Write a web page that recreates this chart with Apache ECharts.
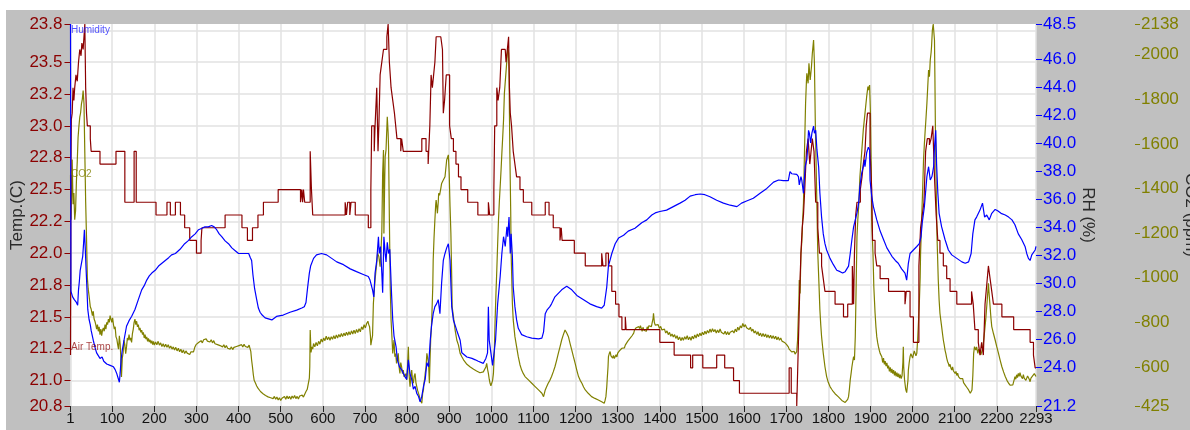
<!DOCTYPE html>
<html>
<head>
<meta charset="UTF-8">
<title>Air Temp / Humidity / CO2</title>
<script src="https://cdn.jsdelivr.net/npm/echarts@6.0.0/dist/echarts.min.js"></script>
<style>
  html, body { margin: 0; padding: 0; background: #fff; }
  #chart { position: absolute; left: 6px; top: 10px; width: 1184px; height: 420px; }
</style>
</head>
<body>
<div id="chart"></div>
<script>
// ticks shown on each axis
const xTicks = [1, 100, 200, 300, 400, 500, 600, 700, 800, 900, 1000, 1100, 1200, 1300, 1400, 1500, 1600, 1700, 1800, 1900, 2000, 2100, 2200, 2293];
const tempTicks = [20.8, 21.0, 21.25, 21.5, 21.75, 22.0, 22.25, 22.5, 22.75, 23.0, 23.25, 23.5, 23.8];
const tempTickLabels = ['20.8', '21.0', '21.2', '21.5', '21.8', '22.0', '22.2', '22.5', '22.8', '23.0', '23.2', '23.5', '23.8'];
const tempGrid = [21.0, 21.25, 21.5, 21.75, 22.0, 22.25, 22.5, 22.75, 23.0, 23.25, 23.5, 23.75];
const rhTicks = [21.2, 24, 26, 28, 30, 32, 34, 36, 38, 40, 42, 44, 46, 48.5];
const co2Ticks = [425, 600, 800, 1000, 1200, 1400, 1600, 1800, 2000, 2138];

// Air Temp. (C) - stepped
const tempData = [[1,21.2],[2,22.65],[3,23.05],[5,23.1],[7,23.3],[9,23.2],[11,23.3],[14,23.4],[17,23.35],[20,23.5],[23,23.6],[26,23.55],[28,23.65],[31,23.6],[33,23.7],[35,23.8],[37,23.3],[39,23.1],[41,23.0],[48,22.9],[50,22.8],[71,22.7],[109,22.8],[130,22.4],[152,22.8],[157,22.4],[204,22.3],[230,22.4],[238,22.3],[250,22.4],[262,22.3],[272,22.2],[284,22.1],[300,22.0],[311,22.1],[313,22.2],[368,22.3],[408,22.2],[421,22.1],[433,22.2],[446,22.3],[459,22.4],[494,22.5],[547,22.4],[550,22.5],[552,22.4],[554,22.5],[557,22.4],[570,22.8],[573,22.5],[576,22.3],[653,22.4],[656,22.3],[659,22.4],[664,22.3],[667,22.4],[677,22.3],[708,22.2],[714,22.5],[716,23.0],[722,22.8],[724,23.0],[728,23.3],[731,22.8],[733,23.0],[736,23.4],[740,23.5],[744,23.6],[748,23.6],[752,23.7],[755,23.8],[758,23.5],[762,23.3],[766,23.2],[770,23.1],[773,23.0],[776,22.9],[785,22.8],[787,22.9],[791,22.8],[835,22.9],[845,22.8],[850,22.7],[854,23.0],[857,23.4],[860,23.3],[863,23.4],[866,23.5],[869,23.7],[880,23.7],[884,23.6],[886,23.1],[889,23.2],[893,23.4],[897,23.4],[901,23.0],[905,22.9],[910,22.8],[916,22.7],[922,22.6],[928,22.5],[944,22.4],[968,22.3],[993,22.4],[996,22.3],[1006,22.5],[1008,23.0],[1013,23.3],[1016,23.2],[1020,23.3],[1024,23.6],[1033,23.6],[1035,23.5],[1038,23.6],[1041,23.7],[1043,23.3],[1045,23.1],[1048,23.0],[1052,22.8],[1056,22.7],[1060,22.6],[1068,22.5],[1076,22.4],[1096,22.3],[1128,22.4],[1137,22.3],[1147,22.2],[1163,22.1],[1166,22.2],[1168,22.1],[1197,22.0],[1223,21.9],[1262,22.0],[1265,21.9],[1272,22.0],[1278,21.9],[1286,21.7],[1295,21.6],[1303,21.5],[1310,21.4],[1318,21.5],[1320,21.4],[1400,21.3],[1434,21.2],[1473,21.1],[1478,21.2],[1502,21.1],[1535,21.2],[1554,21.1],[1575,21.0],[1589,20.9],[1707,21.1],[1712,20.9],[1725,20.8],[1729,21.3],[1732,21.7],[1735,22.0],[1738,22.2],[1741,22.3],[1744,22.5],[1748,22.8],[1752,22.9],[1756,22.7],[1759,22.8],[1762,22.9],[1766,22.8],[1770,22.4],[1775,22.2],[1779,22.0],[1784,21.9],[1788,21.8],[1792,21.7],[1816,21.6],[1836,21.5],[1846,21.6],[1857,21.9],[1860,21.6],[1862,22.0],[1865,22.3],[1868,22.4],[1876,22.5],[1880,22.6],[1883,22.7],[1887,22.8],[1890,23.0],[1893,23.1],[1899,22.8],[1903,22.5],[1905,22.1],[1911,22.0],[1915,21.9],[1923,21.8],[1943,21.7],[1982,21.6],[1985,21.7],[1994,21.5],[2002,21.3],[2015,21.9],[2019,22.2],[2023,22.3],[2027,22.4],[2031,22.8],[2035,22.9],[2040,22.85],[2044,22.9],[2048,23.0],[2052,22.6],[2056,22.3],[2060,22.1],[2065,22.0],[2073,21.9],[2081,21.8],[2089,21.7],[2105,21.6],[2140,21.7],[2144,21.6],[2148,21.4],[2156,21.3],[2160,21.2],[2164,21.3],[2168,21.2],[2172,21.6],[2176,21.75],[2180,21.9],[2184,21.8],[2188,21.7],[2192,21.6],[2212,21.5],[2240,21.4],[2279,21.3],[2287,21.2],[2291,21.1],[2293,21.1]];

// Humidity RH (%)
const rhData = [[1,48.5],[2,29.4],[4,29.3],[6,29.0],[8,29.1],[10,28.8],[12,28.9],[15,28.6],[18,28.4],[20,29.5],[22,30.1],[24,30.9],[26,30.8],[28,31.0],[30,31.9],[32,32.8],[34,33.8],[36,32.5],[38,31.0],[40,29.6],[42,28.1],[45,27.4],[48,27.0],[50,26.6],[55,25.9],[60,25.3],[63,25.0],[67,24.8],[71,24.6],[76,24.7],[80,24.4],[83,24.5],[87,24.2],[91,24.3],[95,24.1],[99,24.1],[103,24.0],[107,23.8],[111,23.5],[114,23.2],[117,22.9],[119,23.6],[121,24.5],[124,25.2],[128,25.9],[134,26.9],[140,27.3],[146,27.6],[154,28.1],[162,28.8],[170,29.5],[176,29.8],[182,30.2],[188,30.5],[194,30.7],[202,30.9],[210,31.2],[218,31.4],[226,31.6],[234,31.8],[241,32.0],[250,32.1],[261,32.4],[272,32.8],[280,33.0],[289,33.3],[297,33.5],[305,33.8],[313,33.9],[320,34.0],[328,34.0],[336,34.1],[342,34.0],[348,33.8],[354,33.5],[360,33.3],[368,33.0],[376,32.8],[384,32.5],[392,32.3],[400,32.1],[408,32.1],[416,32.1],[424,32.1],[428,31.8],[431,31.6],[434,30.6],[438,29.6],[443,28.8],[447,28.2],[451,27.9],[456,27.7],[463,27.5],[467,27.6],[479,27.35],[490,27.6],[506,27.7],[522,27.9],[538,28.05],[550,28.2],[556,28.3],[560,28.6],[564,29.7],[568,30.7],[571,31.2],[578,31.75],[585,32.0],[597,32.1],[609,32.0],[621,31.75],[633,31.5],[649,31.3],[665,31.0],[680,30.8],[696,30.6],[708,30.45],[712,30.2],[718,29.5],[721,29.0],[724,30.7],[728,31.6],[732,33.3],[734,32.1],[737,32.6],[740,30.7],[742,29.3],[745,33.3],[748,32.1],[750,31.5],[753,32.9],[756,32.1],[759,32.4],[763,29.3],[766,27.35],[769,26.2],[774,25.4],[777,24.5],[782,24.0],[787,23.8],[795,23.3],[799,23.1],[803,24.5],[807,23.5],[811,23.1],[815,22.4],[819,22.6],[823,22.1],[827,21.9],[831,21.5],[835,21.9],[839,22.6],[843,23.1],[847,24.3],[851,24.0],[855,25.9],[858,26.9],[862,27.8],[866,28.3],[870,28.5],[874,28.8],[878,27.8],[882,30.0],[886,31.6],[890,32.1],[894,32.5],[898,32.8],[902,31.6],[906,28.3],[910,27.35],[918,26.6],[926,25.9],[930,25.0],[942,24.7],[954,24.6],[962,24.5],[969,24.4],[981,24.25],[987,24.6],[991,25.0],[993,28.3],[995,25.9],[999,25.0],[1003,24.1],[1007,24.0],[1010,25.9],[1015,28.5],[1021,30.45],[1025,32.1],[1029,33.3],[1033,32.6],[1037,34.0],[1039,33.3],[1042,34.7],[1045,32.1],[1047,33.5],[1050,31.9],[1052,29.7],[1056,28.3],[1060,27.35],[1064,26.75],[1072,26.3],[1084,26.15],[1096,26.05],[1112,26.0],[1120,26.05],[1124,26.5],[1128,27.8],[1132,28.05],[1139,28.3],[1143,28.5],[1151,29.0],[1167,29.5],[1179,29.75],[1191,29.5],[1203,29.1],[1219,28.8],[1234,28.5],[1250,28.3],[1262,28.2],[1268,28.4],[1274,29.7],[1278,31.2],[1286,32.1],[1294,32.8],[1302,33.2],[1314,33.4],[1325,33.7],[1341,33.9],[1357,34.3],[1369,34.5],[1381,34.85],[1389,35.0],[1400,35.1],[1416,35.2],[1432,35.45],[1448,35.7],[1460,35.9],[1472,36.2],[1484,36.3],[1496,36.35],[1507,36.3],[1519,36.15],[1535,35.9],[1551,35.7],[1567,35.55],[1583,35.45],[1594,35.7],[1606,35.85],[1622,36.05],[1638,36.4],[1654,36.75],[1670,37.2],[1682,37.35],[1693,37.3],[1705,37.3],[1709,37.95],[1713,37.8],[1725,37.75],[1729,37.6],[1731,37.0],[1735,37.6],[1737,37.35],[1741,36.4],[1745,38.3],[1749,38.8],[1751,39.7],[1753,40.9],[1755,40.7],[1758,40.0],[1761,40.7],[1765,41.2],[1767,40.7],[1770,40.9],[1773,39.5],[1777,38.3],[1780,36.4],[1784,34.7],[1788,33.5],[1792,32.8],[1796,32.35],[1804,31.75],[1812,31.3],[1820,30.9],[1828,30.8],[1834,30.7],[1840,30.8],[1844,30.8],[1848,31.2],[1852,32.1],[1856,33.1],[1860,34.0],[1864,34.5],[1868,35.0],[1872,35.7],[1875,36.9],[1879,37.8],[1883,38.3],[1886,38.8],[1887,38.3],[1891,39.3],[1895,39.7],[1898,39.5],[1899,37.35],[1903,36.2],[1907,35.45],[1915,34.5],[1923,33.7],[1931,33.1],[1939,32.5],[1951,31.9],[1959,31.6],[1966,31.4],[1974,31.0],[1982,30.7],[1986,30.2],[1990,31.4],[1994,32.1],[2002,32.35],[2010,32.6],[2016,32.8],[2020,33.3],[2023,34.3],[2028,35.45],[2034,37.6],[2038,38.3],[2042,37.35],[2046,37.6],[2050,38.3],[2052,39.7],[2055,40.9],[2057,38.5],[2060,36.4],[2063,34.97],[2069,34.0],[2077,33.1],[2085,32.35],[2093,32.0],[2105,31.75],[2117,31.5],[2125,31.4],[2133,31.5],[2139,32.1],[2143,33.5],[2148,34.5],[2152,34.7],[2160,35.2],[2166,35.7],[2171,34.7],[2176,34.85],[2182,34.5],[2188,34.97],[2196,35.25],[2202,35.15],[2210,34.97],[2220,34.85],[2228,34.7],[2236,34.5],[2243,34.15],[2251,33.5],[2259,33.1],[2267,32.6],[2271,32.1],[2275,31.75],[2279,31.6],[2283,32.0],[2287,32.1],[2291,32.35],[2293,32.6]];

// CO2 (ppm)
const co2Data = [[1,1460],[2,1260],[4,1400],[5,1530],[7,1330],[9,1380],[11,1260],[13,1300],[15,1430],[17,1520],[19,1630],[21,1680],[23,1720],[25,1740],[27,1780],[29,1800],[31,1840],[33,1780],[35,1560],[37,1340],[39,1180],[41,1000],[43,950],[45,920],[48,870],[50,860],[53,830],[55,850],[57,815],[59,805],[61,790],[63,770],[65,790],[67,760],[69,780],[71,745],[73,770],[75,740],[77,765],[79,775],[81,760],[83,790],[85,770],[87,800],[89,790],[91,815],[93,800],[95,830],[97,815],[99,800],[101,820],[103,790],[105,770],[107,780],[109,735],[111,725],[113,700],[115,680],[117,740],[119,700],[121,620],[122,555],[124,640],[126,665],[128,720],[130,700],[132,660],[134,690],[136,730],[138,720],[140,745],[142,720],[144,730],[146,710],[148,750],[150,770],[152,800],[154,815],[156,790],[158,805],[160,780],[162,790],[164,765],[166,775],[168,755],[170,765],[172,745],[174,755],[176,730],[178,745],[180,725],[182,735],[184,715],[186,728],[188,712],[190,722],[192,706],[194,718],[196,700],[198,715],[200,698],[203,712],[206,700],[209,715],[212,698],[215,708],[218,692],[221,704],[224,690],[227,702],[230,688],[233,700],[236,684],[239,694],[242,680],[245,690],[248,676],[251,688],[254,672],[257,684],[260,668],[263,680],[266,664],[269,676],[272,660],[275,672],[278,662],[281,670],[284,656],[287,668],[290,675],[293,668],[296,688],[299,700],[302,694],[305,710],[308,704],[311,718],[314,708],[317,722],[320,714],[323,726],[326,716],[329,724],[332,712],[335,722],[338,708],[341,718],[344,704],[347,712],[350,700],[353,708],[356,696],[359,704],[362,690],[365,700],[368,686],[371,696],[374,684],[377,692],[380,680],[383,690],[386,678],[389,688],[392,680],[395,692],[398,684],[401,696],[404,688],[407,700],[410,690],[413,702],[416,692],[419,700],[422,688],[425,698],[427,690],[429,670],[431,630],[433,600],[435,565],[437,540],[440,528],[443,515],[446,505],[449,498],[452,490],[455,497],[458,480],[461,485],[464,472],[467,480],[470,466],[473,474],[476,462],[479,470],[482,458],[485,468],[488,455],[491,465],[494,452],[497,462],[500,450],[503,460],[506,452],[509,468],[512,455],[515,470],[518,458],[521,468],[524,455],[527,470],[530,460],[533,472],[536,458],[539,468],[542,456],[545,470],[548,462],[551,474],[554,465],[557,478],[560,490],[563,500],[566,530],[568,550],[569,600],[570,766],[572,665],[574,690],[576,680],[578,705],[581,690],[584,710],[587,695],[590,715],[593,702],[596,725],[599,712],[602,730],[605,718],[608,738],[611,722],[614,735],[617,720],[620,736],[623,724],[626,740],[629,726],[632,744],[635,730],[638,746],[641,734],[644,750],[647,736],[650,752],[653,740],[656,756],[659,742],[662,758],[665,745],[668,762],[671,748],[674,765],[677,750],[680,768],[683,754],[686,772],[689,758],[692,780],[695,768],[698,790],[701,775],[704,795],[707,805],[709,790],[711,780],[713,740],[714,698],[716,720],[718,740],[720,885],[722,940],[724,990],[726,1030],[728,1065],[730,1110],[733,1095],[736,1050],[738,1120],[740,1199],[742,1468],[744,1573],[745,1199],[747,1450],[748,1543],[750,1573],[753,1722],[755,1650],[756,1588],[757,1420],[758,1259],[760,960],[762,811],[764,736],[766,661],[768,700],[769,721],[771,646],[773,660],[775,616],[777,640],[779,661],[781,600],[783,571],[785,620],[787,601],[789,570],[791,586],[793,555],[795,557],[797,570],[799,542],[801,600],[803,691],[805,560],[807,512],[809,560],[811,586],[813,540],[815,527],[817,560],[819,571],[821,530],[823,512],[825,495],[827,482],[829,470],[831,452],[833,445],[835,437],[837,482],[839,500],[840,527],[842,550],[843,571],[845,600],[847,661],[849,640],[851,616],[853,527],[854,600],[856,721],[858,790],[859,841],[861,960],[862,1080],[864,1180],[866,1259],[868,1330],[869,1349],[871,1310],[872,1289],[874,1340],[875,1379],[877,1370],[878,1379],[880,1400],[882,1423],[884,1430],[886,1438],[888,1445],[890,1453],[892,1490],[894,1528],[896,1540],[898,1551],[900,1468],[902,1319],[904,1199],[906,1000],[907,870],[910,826],[914,766],[918,721],[922,698],[926,661],[930,646],[934,632],[938,624],[942,612],[946,609],[950,600],[954,594],[958,590],[961,586],[965,582],[969,579],[973,574],[977,571],[981,578],[985,586],[987,600],[989,616],[991,590],[993,571],[995,545],[997,527],[999,515],[1001,512],[1003,540],[1005,571],[1007,661],[1009,811],[1011,930],[1013,1035],[1015,1150],[1017,1259],[1019,1340],[1021,1409],[1023,1480],[1025,1558],[1027,1630],[1029,1707],[1031,1827],[1034,1902],[1037,1977],[1039,2036],[1041,2006],[1042,1932],[1044,1558],[1046,1300],[1047,1110],[1050,885],[1052,811],[1056,736],[1060,691],[1064,646],[1068,610],[1072,586],[1076,570],[1080,557],[1084,550],[1088,542],[1092,535],[1096,527],[1100,520],[1104,512],[1108,505],[1112,497],[1116,490],[1120,482],[1124,467],[1128,497],[1131,510],[1135,527],[1139,540],[1143,557],[1147,578],[1151,601],[1155,630],[1159,661],[1163,690],[1167,721],[1171,745],[1175,766],[1179,752],[1183,736],[1187,705],[1191,676],[1195,645],[1199,616],[1203,585],[1207,557],[1211,540],[1215,527],[1219,510],[1223,497],[1227,490],[1230,482],[1234,475],[1238,467],[1242,463],[1246,459],[1250,455],[1254,452],[1258,448],[1262,444],[1265,440],[1268,437],[1270,450],[1272,467],[1274,510],[1275,542],[1277,600],[1278,646],[1280,660],[1282,669],[1284,650],[1286,654],[1288,640],[1290,652],[1292,638],[1294,646],[1296,655],[1298,645],[1300,662],[1302,661],[1304,672],[1306,664],[1308,680],[1310,684],[1312,676],[1314,692],[1316,686],[1318,698],[1320,706],[1322,700],[1324,716],[1326,710],[1328,724],[1330,730],[1332,722],[1334,740],[1336,734],[1338,752],[1340,766],[1342,758],[1344,776],[1346,768],[1348,784],[1350,781],[1352,772],[1354,785],[1356,773],[1358,760],[1360,778],[1362,765],[1364,758],[1366,772],[1368,760],[1370,780],[1372,770],[1374,785],[1376,778],[1378,790],[1380,781],[1382,800],[1384,818],[1385,841],[1387,800],[1389,788],[1391,796],[1393,781],[1396,790],[1399,773],[1402,782],[1405,766],[1408,758],[1411,770],[1414,752],[1417,762],[1420,745],[1423,755],[1426,738],[1429,748],[1432,734],[1435,745],[1438,728],[1441,740],[1444,722],[1447,735],[1450,718],[1453,732],[1456,720],[1459,736],[1462,724],[1465,740],[1468,722],[1471,735],[1474,720],[1477,738],[1480,726],[1483,744],[1486,730],[1489,748],[1492,736],[1495,752],[1498,740],[1501,756],[1504,744],[1507,760],[1510,748],[1513,764],[1516,752],[1519,770],[1522,756],[1525,772],[1528,758],[1531,768],[1534,752],[1537,766],[1540,754],[1543,770],[1546,756],[1549,764],[1552,748],[1555,760],[1558,745],[1561,758],[1564,744],[1567,756],[1570,748],[1573,762],[1576,752],[1579,770],[1582,758],[1585,778],[1588,765],[1591,784],[1594,775],[1597,795],[1600,780],[1603,790],[1606,776],[1609,784],[1612,768],[1615,778],[1618,760],[1621,770],[1624,752],[1627,762],[1630,746],[1633,758],[1636,740],[1639,752],[1642,736],[1645,750],[1648,736],[1651,748],[1654,732],[1657,744],[1660,730],[1663,742],[1666,728],[1669,740],[1672,726],[1675,738],[1678,722],[1681,734],[1684,720],[1687,730],[1690,716],[1693,724],[1696,710],[1699,718],[1701,700],[1703,706],[1705,690],[1707,680],[1709,676],[1711,684],[1713,668],[1715,675],[1717,662],[1719,670],[1721,658],[1723,665],[1725,669],[1727,721],[1729,840],[1730,885],[1731,990],[1733,930],[1735,1110],[1737,1160],[1738,1199],[1739,1259],[1741,1334],[1743,1528],[1745,1700],[1746,1782],[1748,1880],[1749,1917],[1752,1872],[1754,1962],[1757,1887],[1760,1947],[1762,2006],[1765,2066],[1767,1962],[1769,1707],[1772,1409],[1775,1110],[1778,960],[1780,856],[1782,790],[1784,736],[1788,661],[1792,601],[1796,557],[1800,530],[1804,512],[1808,500],[1812,489],[1816,480],[1820,474],[1824,466],[1828,459],[1832,450],[1836,444],[1840,441],[1844,440],[1846,455],[1848,467],[1850,500],[1852,542],[1854,570],[1856,601],[1858,625],[1860,646],[1862,631],[1864,736],[1866,960],[1868,1184],[1870,1260],[1872,1319],[1875,1453],[1879,1558],[1883,1663],[1887,1737],[1891,1812],[1894,1857],[1895,1842],[1898,1864],[1900,1737],[1902,1483],[1903,1259],[1906,1110],[1908,960],[1911,841],[1913,780],[1915,736],[1917,710],[1919,691],[1921,675],[1923,661],[1925,655],[1927,646],[1929,620],[1931,640],[1933,612],[1935,626],[1937,604],[1939,618],[1941,594],[1943,606],[1945,580],[1947,598],[1949,574],[1951,592],[1953,570],[1955,586],[1957,562],[1959,580],[1961,558],[1963,575],[1965,555],[1967,570],[1969,550],[1971,566],[1973,548],[1975,560],[1977,620],[1978,691],[1979,600],[1981,542],[1983,510],[1984,497],[1986,485],[1987,482],[1989,540],[1990,586],[1992,620],[1994,646],[1996,660],[1998,661],[2000,640],[2002,646],[2004,672],[2006,669],[2008,650],[2010,661],[2012,721],[2014,800],[2016,885],[2018,1000],[2019,1110],[2021,1220],[2022,1289],[2024,1400],[2026,1528],[2028,1600],[2030,1663],[2032,1720],[2034,1782],[2036,1857],[2038,1932],[2040,1902],[2042,1977],[2044,2010],[2045,2036],[2047,2111],[2049,2138],[2050,2130],[2052,2066],[2053,1900],[2054,1707],[2056,1409],[2058,1184],[2061,990],[2063,900],[2065,841],[2067,810],[2069,781],[2071,750],[2073,721],[2075,700],[2077,676],[2079,660],[2081,640],[2083,625],[2085,616],[2087,602],[2089,612],[2091,595],[2093,586],[2095,600],[2097,582],[2099,590],[2101,571],[2103,580],[2105,562],[2107,572],[2109,557],[2111,565],[2113,548],[2115,556],[2117,542],[2119,548],[2121,530],[2123,538],[2125,519],[2127,525],[2129,508],[2131,512],[2133,497],[2135,490],[2137,482],[2139,488],[2141,497],[2143,560],[2145,661],[2147,691],[2150,676],[2152,690],[2155,661],[2157,680],[2160,676],[2162,655],[2164,661],[2166,680],[2168,706],[2170,740],[2172,781],[2174,820],[2176,870],[2178,920],[2180,975],[2182,920],[2184,870],[2186,820],[2188,781],[2192,750],[2196,721],[2200,690],[2204,661],[2208,630],[2212,601],[2216,578],[2220,557],[2224,540],[2228,527],[2232,518],[2236,512],[2238,520],[2240,534],[2242,548],[2243,557],[2245,545],[2247,565],[2249,552],[2251,571],[2253,558],[2255,575],[2257,560],[2259,564],[2261,548],[2263,566],[2265,550],[2267,557],[2269,540],[2271,542],[2273,560],[2275,557],[2277,545],[2279,534],[2281,550],[2283,542],[2285,560],[2287,557],[2289,570],[2291,564],[2293,557]];

const TEMP_COLOR = '#8b0000';
const RH_COLOR = '#0000ff';
const CO2_COLOR = '#808000';
const FONT = 'Liberation Sans';

function tempLabel(v) {
  let best = 0;
  for (let i = 1; i < tempTicks.length; i++) {
    if (Math.abs(tempTicks[i] - v) < Math.abs(tempTicks[best] - v)) best = i;
  }
  return tempTickLabels[best];
}

const chart = echarts.init(document.getElementById('chart'));
chart.setOption({
  animation: false,
  backgroundColor: '#c0c0c0',
  grid: {
    left: 64.5, top: 14, right: 154, bottom: 24,
    outerBoundsMode: 'none', containLabel: false,
    show: true, backgroundColor: '#ffffff', borderWidth: 0
  },
  xAxis: {
    type: 'value', min: 1, max: 2293,
    axisLine: { show: false },
    axisTick: { show: true, length: 6, customValues: xTicks, lineStyle: { color: '#222' } },
    axisLabel: { customValues: xTicks, color: '#111', fontSize: 15, fontFamily: FONT, margin: 5,
      formatter: v => String(Math.round(v)) },
    splitLine: { show: true, lineStyle: { color: '#e2e2e2', width: 1.5 } }
  },
  yAxis: [
    {
      type: 'value', position: 'left', min: 20.8, max: 23.8,
      name: 'Temp.(C)', nameLocation: 'middle', nameGap: 45, nameRotate: 90, nameMoveOverlap: false,
      nameTextStyle: { color: '#2a2a2a', fontSize: 17, fontFamily: FONT },
      axisLine: { show: false },
      axisTick: { show: true, length: 6, customValues: tempTicks, lineStyle: { color: TEMP_COLOR } },
      axisLabel: { customValues: tempTicks, color: TEMP_COLOR, fontSize: 17, fontFamily: FONT, margin: 8,
        formatter: tempLabel },
      splitLine: { show: false }
    },
    {
      type: 'value', position: 'right', min: 21.2, max: 48.5,
      name: 'RH (%)', nameLocation: 'middle', nameGap: 43, nameRotate: -90, nameMoveOverlap: false,
      nameTextStyle: { color: '#2a2a2a', fontSize: 17, fontFamily: FONT },
      axisLine: { show: false },
      axisTick: { show: true, length: 6, customValues: rhTicks, lineStyle: { color: RH_COLOR } },
      axisLabel: { customValues: rhTicks, color: RH_COLOR, fontSize: 17, fontFamily: FONT, margin: 7,
        formatter: v => v.toFixed(1) },
      splitLine: { show: false }
    },
    {
      type: 'value', position: 'right', offset: 99, min: 425, max: 2138,
      name: 'CO2 (ppm)', nameLocation: 'middle', nameGap: 47, nameRotate: -90, nameMoveOverlap: false,
      nameTextStyle: { color: '#2a2a2a', fontSize: 17, fontFamily: FONT },
      axisLine: { show: false },
      axisTick: { show: true, length: 5, customValues: co2Ticks, lineStyle: { color: CO2_COLOR } },
      axisLabel: { customValues: co2Ticks, color: CO2_COLOR, fontSize: 17, fontFamily: FONT, margin: 6,
        formatter: v => String(Math.round(v)) },
      splitLine: { show: false }
    },
    {
      // horizontal grid lines on the temperature scale
      type: 'value', position: 'left', min: 20.8, max: 23.8,
      axisLine: { show: false },
      axisTick: { show: false, customValues: tempGrid },
      axisLabel: { show: false },
      splitLine: { show: true, lineStyle: { color: '#e2e2e2', width: 1.5 } }
    }
  ],
  graphic: [
    { type: 'text', left: 65, top: 15, z: 100,
      style: { text: 'Humidity', fill: 'rgba(40,40,255,0.8)', font: '10px "Liberation Sans"' } },
    { type: 'text', left: 65, top: 159, z: 100,
      style: { text: 'CO2', fill: 'rgba(128,128,0,0.8)', font: '10px "Liberation Sans"' } },
    { type: 'text', left: 65, top: 332, z: 100,
      style: { text: 'Air Temp.', fill: 'rgba(139,0,0,0.75)', font: '10px "Liberation Sans"' } }
  ],
  series: [
    { name: 'CO2', type: 'line', yAxisIndex: 2, data: co2Data, symbol: 'none',
      lineStyle: { color: CO2_COLOR, width: 1.2 }, itemStyle: { color: CO2_COLOR } },
    { name: 'Air Temp.', type: 'line', yAxisIndex: 0, data: tempData, step: 'end', symbol: 'none',
      lineStyle: { color: TEMP_COLOR, width: 1.2 }, itemStyle: { color: TEMP_COLOR } },
    { name: 'Humidity', type: 'line', yAxisIndex: 1, data: rhData, symbol: 'none',
      lineStyle: { color: RH_COLOR, width: 1.2 }, itemStyle: { color: RH_COLOR } }
  ]
});
</script>
</body>
</html>
